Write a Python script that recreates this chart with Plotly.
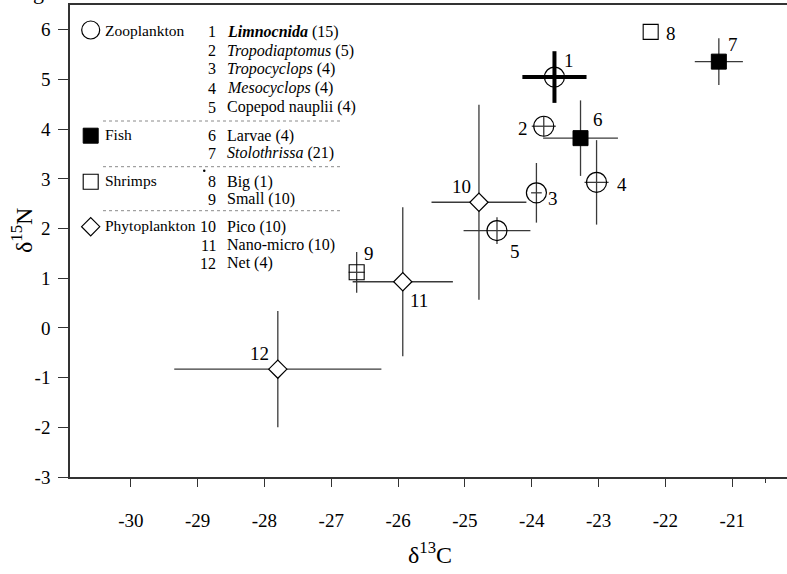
import plotly.graph_objects as go

# Stable isotope means (δ13C, δ15N) with standard deviations per food-web component
ids = [1, 2, 3, 4, 5, 6, 7, 8, 9, 10, 11, 12]
groups = ["Zooplankton"] * 5 + ["Fish"] * 2 + ["Shrimps"] * 2 + ["Phytoplankton"] * 3
names = [
    "<b><i>Limnocnida</i></b> (15)",
    "<i>Tropodiaptomus</i> (5)",
    "<i>Tropocyclops</i> (4)",
    "<i>Mesocyclops</i> (4)",
    "Copepod nauplii (4)",
    "Larvae (4)",
    "<i>Stolothrissa</i> (21)",
    "Big (1)",
    "Small (10)",
    "Pico (10)",
    "Nano-micro (10)",
    "Net (4)",
]
d13c = [-23.66, -23.82, -23.93, -23.03, -24.52, -23.27, -21.20, -22.22, -26.62, -24.79, -25.93, -27.80]
d15n = [5.05, 4.06, 2.72, 2.93, 1.96, 3.82, 5.36, 5.96, 1.12, 2.53, 0.93, -0.83]
sd13c = [0.48, 0.18, 0.08, 0.18, 0.50, 0.56, 0.36, 0.0, 0.12, 0.71, 0.75, 1.55]
sd15n = [0.52, 0.20, 0.60, 0.85, 0.27, 0.76, 0.47, 0.0, 0.41, 1.96, 1.50, 1.17]

x_ticks = [-30, -29, -28, -27, -26, -25, -24, -23, -22, -21]
y_ticks = [-3, -2, -1, 0, 1, 2, 3, 4, 5, 6]

FONT = "Liberation Serif"
W, H = 787, 574
ML, MR, MT, MB = 70, 0, 5, 97
PW, PH = W - ML - MR, H - MT - MB

# marker style per group
STYLE = {
    "Zooplankton": dict(symbol="circle-open", size=20, color="black", line=dict(color="black", width=1.2)),
    "Fish": dict(symbol="square", size=15, color="black", line=dict(color="black", width=1)),
    "Shrimps": dict(symbol="square-open", size=15, color="black", line=dict(color="black", width=1.1)),
    "Phytoplankton": dict(symbol="diamond", size=14, color="white", line=dict(color="black", width=1.2)),
}

# pixel offsets of the numeric labels next to each point
LABEL_OFFSETS = {
    1: (15, 17), 2: (-21, -2), 3: (17, -6), 4: (25, -2), 5: (18, -21), 6: (17, 19),
    7: (14, 17), 8: (20, -2), 9: (12, 19), 10: (-17, 16), 11: (16, -19), 12: (-18, 16),
}


def px_x(px):
    return (px - ML) / PW


def px_y(py):
    return (H - MB - py) / PH


fig = go.Figure()

# data points, drawn group by group; the first taxon gets heavy error bars
for g in ["Phytoplankton", "Shrimps", "Fish", "Zooplankton"]:
    for heavy in (False, True):
        idx = [i for i, gg in enumerate(groups) if gg == g and ((i == 0) == heavy)]
        if not idx:
            continue
        thick = 4 if heavy else 1.3
        col = "black" if heavy else "#3a3a3a"
        fig.add_trace(go.Scatter(
            x=[d13c[i] for i in idx],
            y=[d15n[i] for i in idx],
            mode="markers",
            marker=STYLE[g],
            error_x=dict(type="data", array=[sd13c[i] for i in idx], width=0,
                         thickness=thick, color=col),
            error_y=dict(type="data", array=[sd15n[i] for i in idx], width=0,
                         thickness=thick, color=col),
            showlegend=False,
            hoverinfo="skip",
            cliponaxis=False,
        ))

annotations = []
for i, n in enumerate(ids):
    dx, dy = LABEL_OFFSETS[n]
    annotations.append(dict(
        x=d13c[i], y=d15n[i], xref="x", yref="y", text=str(n), showarrow=False,
        xshift=dx, yshift=dy, font=dict(family=FONT, size=19, color="black"),
    ))

# key block in the upper-left corner
group_order = ["Zooplankton", "Fish", "Shrimps", "Phytoplankton"]
row_y = [31.7, 50.7, 69.0, 88.3, 107.3, 135.7, 153.3, 181.7, 199.3, 226.7, 245.0, 263.3]
group_row = {"Zooplankton": 0, "Fish": 5, "Shrimps": 7, "Phytoplankton": 9}
key_marker_y = {"Zooplankton": 30.0, "Fish": 135.7, "Shrimps": 181.7, "Phytoplankton": 226.7}
key_sizes = {"Zooplankton": 18, "Fish": 15, "Shrimps": 15, "Phytoplankton": 14}

for g in group_order:
    st = dict(STYLE[g])
    st["size"] = key_sizes[g]
    fig.add_trace(go.Scatter(
        x=[px_x(90.7)], y=[px_y(key_marker_y[g])], xaxis="x2", yaxis="y2",
        mode="markers", marker=st, showlegend=False, hoverinfo="skip", cliponaxis=False,
    ))
    annotations.append(dict(
        x=px_x(103), y=px_y(row_y[group_row[g]] - 1), xref="paper", yref="paper",
        text=g, showarrow=False, xanchor="left", yanchor="middle",
        font=dict(family=FONT, size=15.5, color="black"),
    ))

for i, n in enumerate(ids):
    annotations.append(dict(
        x=px_x(218), y=px_y(row_y[i]), xref="paper", yref="paper", text=str(n),
        showarrow=False, xanchor="right", yanchor="middle",
        font=dict(family=FONT, size=16, color="black"),
    ))
    annotations.append(dict(
        x=px_x(225), y=px_y(row_y[i]), xref="paper", yref="paper", text=names[i],
        showarrow=False, xanchor="left", yanchor="middle",
        font=dict(family=FONT, size=16, color="black"),
    ))

shapes = []
for sy in (121.0, 166.7, 210.7):
    shapes.append(dict(
        type="line", xref="paper", yref="paper", x0=px_x(103), x1=px_x(343),
        y0=px_y(sy), y1=px_y(sy), line=dict(color="#8a8a8a", width=1, dash="dot"),
    ))
# small stray dot beside the shrimp rows
shapes.append(dict(
    type="circle", xref="paper", yref="paper", x0=px_x(203), x1=px_x(205.5),
    y0=px_y(172), y1=px_y(169.5), fillcolor="black", line=dict(width=0),
))

# axis titles
annotations.append(dict(
    x=px_x(430), y=px_y(553), xref="paper", yref="paper", text="δ<sup>13</sup>C",
    showarrow=False, xanchor="center", yanchor="middle",
    font=dict(family=FONT, size=24, color="black"),
))
annotations.append(dict(
    x=px_x(22), y=px_y(231), xref="paper", yref="paper", text="δ<sup>15</sup>N",
    showarrow=False, xanchor="center", yanchor="middle", textangle=-90,
    font=dict(family=FONT, size=24, color="black"),
))
# descender of a clipped panel letter at the very top
annotations.append(dict(
    x=px_x(38), y=px_y(6), xref="paper", yref="paper", text="g",
    showarrow=False, xanchor="center", yanchor="bottom",
    font=dict(family=FONT, size=22, color="black"),
))

fig.update_layout(
    width=W, height=H,
    margin=dict(l=ML, r=MR, t=MT, b=MB, pad=0),
    paper_bgcolor="white", plot_bgcolor="white",
    font=dict(family=FONT, color="black"),
    xaxis=dict(
        range=[-30.91, -20.18], tickvals=x_ticks, ticktext=[str(v) for v in x_ticks],
        ticks="outside", ticklen=8, tickwidth=1.2, tickcolor="#333",
        showline=True, linecolor="#333", linewidth=1.5, mirror=True,
        showgrid=False, zeroline=False,
        tickfont=dict(family=FONT, size=19, color="black"),
        ticklabelstandoff=17,
        minor=dict(tickvals=[-20.5], ticks="outside", ticklen=4, tickcolor="#333", tickwidth=1.2),
    ),
    yaxis=dict(
        range=[-3, 6.5], tickvals=y_ticks, ticktext=[str(v) for v in y_ticks],
        ticks="outside", ticklen=10, tickwidth=1.2, tickcolor="#333",
        showline=True, linecolor="#333", linewidth=1.5, mirror=False,
        showgrid=False, zeroline=False,
        tickfont=dict(family=FONT, size=19, color="black"),
        ticklabelstandoff=4,
    ),
    xaxis2=dict(overlaying="x", range=[0, 1], visible=False, anchor="y2"),
    yaxis2=dict(overlaying="y", range=[0, 1], visible=False, anchor="x2"),
    annotations=annotations,
    shapes=shapes,
)

fig.write_html("out.html")
